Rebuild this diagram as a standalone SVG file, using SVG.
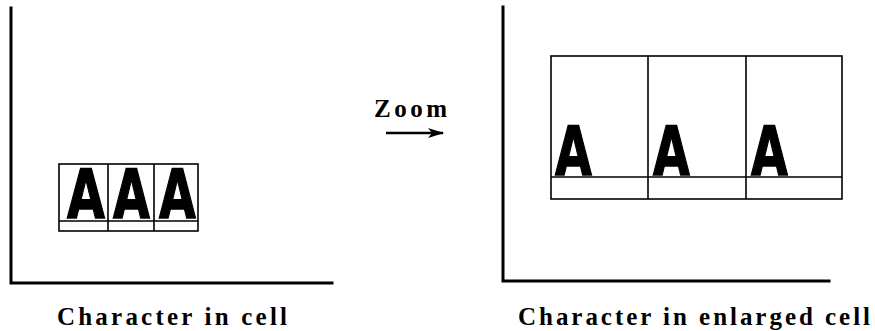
<svg xmlns="http://www.w3.org/2000/svg" width="875" height="331" viewBox="0 0 875 331">
<style>
.axis{stroke:#000;stroke-width:3;fill:none;stroke-linecap:square}
.cell{stroke:#000;stroke-width:1.6;fill:none}
.glyph{font-family:"DejaVu Sans",sans-serif;font-weight:bold;font-size:68px;fill:#000;stroke:#000;stroke-width:1.5}
.lbl{font-family:"Liberation Serif","Times New Roman",serif;font-weight:bold;font-size:25px;fill:#000}
</style>
<defs>
<marker id="ah" viewBox="0 0 16 10" refX="15" refY="5" markerWidth="16" markerHeight="10" markerUnits="userSpaceOnUse" orient="auto">
<path d="M0,0 L16,5 L0,10 L4,5 Z" fill="#000"/>
</marker>
</defs>
<g id="left-panel">
<path class="axis" d="M11,8 V283 H332"/>
<rect class="cell" x="59" y="164" width="139" height="67"/>
<path class="cell" d="M59,221 H198 M108,164 V231 M154,164 V231"/>
<text class="glyph" transform="translate(67,218) scale(0.72,1)">A</text>
<text class="glyph" transform="translate(113,218) scale(0.70,1)">A</text>
<text class="glyph" transform="translate(159,218) scale(0.70,1)">A</text>
<text class="lbl" x="57" y="325" textLength="230" lengthAdjust="spacing">Character in cell</text>
</g>
<g id="right-panel">
<path class="axis" d="M503,7 V281 H829"/>
<rect class="cell" x="551" y="56" width="291" height="143"/>
<path class="cell" d="M551,177 H842 M648,56 V199 M746,56 V199"/>
<text class="glyph" transform="translate(555,175) scale(0.70,1)">A</text>
<text class="glyph" transform="translate(653,175) scale(0.70,1)">A</text>
<text class="glyph" transform="translate(751,175) scale(0.70,1)">A</text>
<text class="lbl" x="518" y="325" textLength="352" lengthAdjust="spacing">Character in enlarged cell</text>
</g>
<g id="connectors">
<text class="lbl" x="374" y="117" font-size="22" textLength="73" lengthAdjust="spacing">Zoom</text>
<line x1="386" y1="133" x2="443" y2="133" stroke="#000" stroke-width="2.5" marker-end="url(#ah)"/>
</g>
</svg>
